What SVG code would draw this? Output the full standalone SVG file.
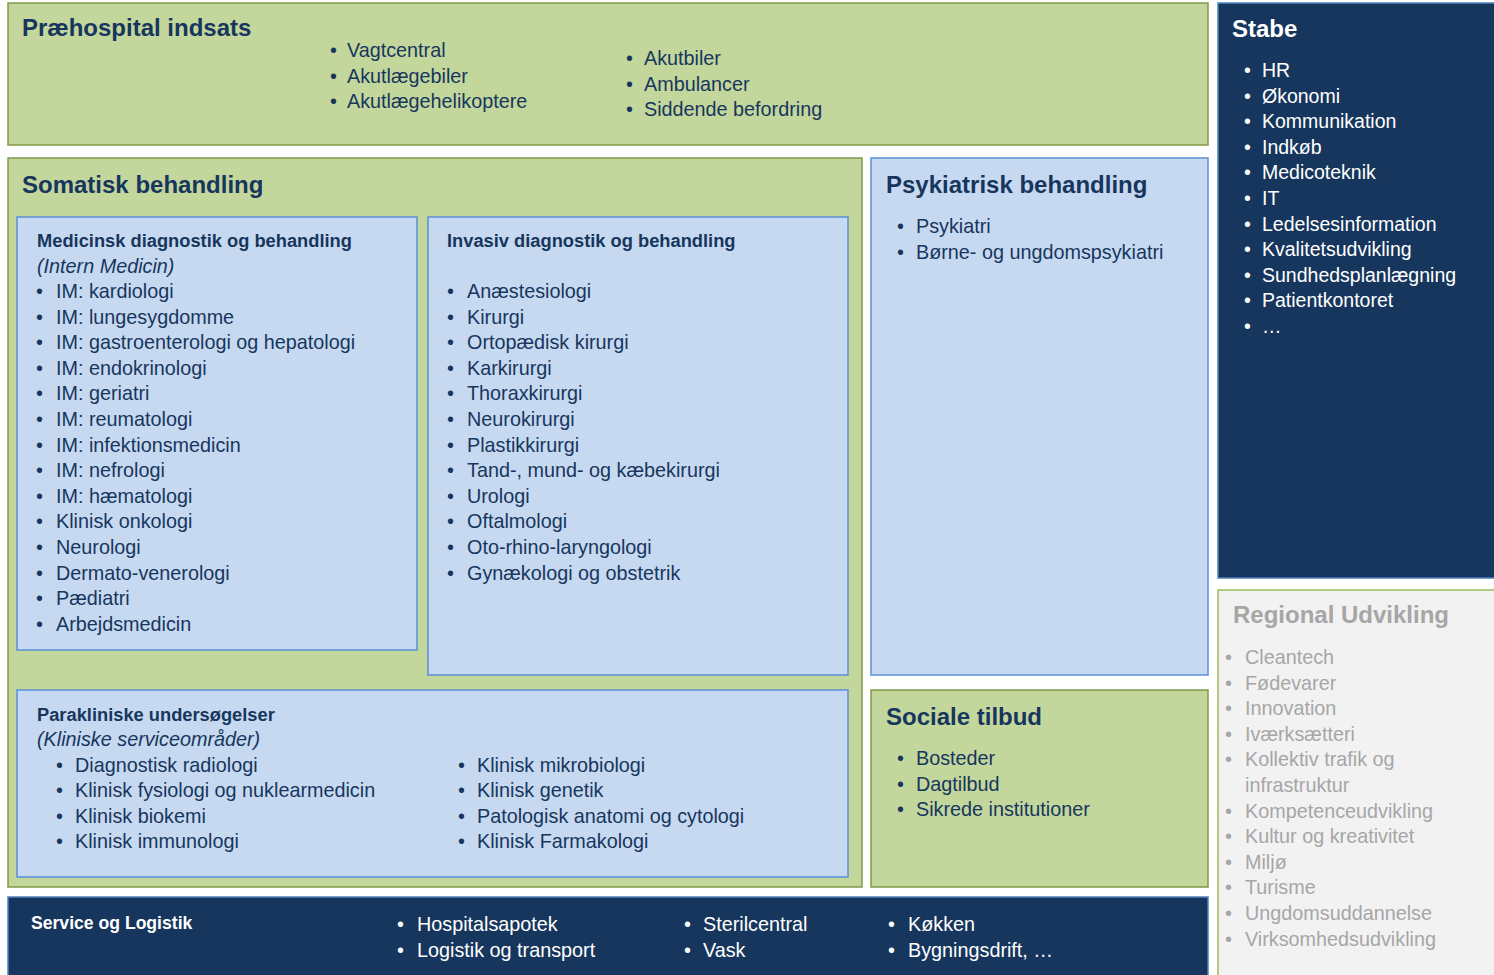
<svg xmlns="http://www.w3.org/2000/svg" width="1494" height="975" viewBox="0 0 1494 975">
<style>
text{font-family:"Liberation Sans",Arial,sans-serif;}
.green{fill:#c3d69b;stroke:#7f9a48;stroke-width:1.5;}
.blue{fill:#c6d9f1;stroke:#5b8fd6;stroke-width:1.5;}
.navy{fill:#17365d;stroke:#4f81bd;stroke-width:1.5;}
.grey{fill:#f2f2f2;stroke:#9bbb59;stroke-width:1.5;}
.title{font-size:24px;font-weight:bold;fill:#17365d;}
.head{font-size:18.3px;font-weight:bold;fill:#17365d;}
.it{font-size:19.8px;font-style:italic;fill:#17365d;}
.item{font-size:19.8px;fill:#17365d;}
.w{fill:#ffffff;}
.g{fill:#a6a6a6;}
</style>

<g id="prehospital">
<rect class="green" x="8" y="3" width="1200" height="142"/>
<text class="title" x="22" y="36">Præhospital indsats</text>
<text class="item"><tspan x="330" y="57">•</tspan><tspan x="347" y="57">Vagtcentral</tspan></text>
<text class="item"><tspan x="330" y="82.5">•</tspan><tspan x="347" y="82.5">Akutlægebiler</tspan></text>
<text class="item"><tspan x="330" y="108">•</tspan><tspan x="347" y="108">Akutlægehelikoptere</tspan></text>
<text class="item"><tspan x="626" y="65">•</tspan><tspan x="644" y="65">Akutbiler</tspan></text>
<text class="item"><tspan x="626" y="90.5">•</tspan><tspan x="644" y="90.5">Ambulancer</tspan></text>
<text class="item"><tspan x="626" y="116">•</tspan><tspan x="644" y="116">Siddende befordring</tspan></text>
</g>

<g id="stabe">
<rect class="navy" x="1218" y="3" width="280" height="575"/>
<text class="title w" x="1232" y="37">Stabe</text>
<g class="item w" style="font-size:19.5px">
<text><tspan x="1244" y="77">•</tspan><tspan x="1262" y="77">HR</tspan></text>
<text><tspan x="1244" y="102.6">•</tspan><tspan x="1262" y="102.6">Økonomi</tspan></text>
<text><tspan x="1244" y="128.2">•</tspan><tspan x="1262" y="128.2">Kommunikation</tspan></text>
<text><tspan x="1244" y="153.8">•</tspan><tspan x="1262" y="153.8">Indkøb</tspan></text>
<text><tspan x="1244" y="179.4">•</tspan><tspan x="1262" y="179.4">Medicoteknik</tspan></text>
<text><tspan x="1244" y="205">•</tspan><tspan x="1262" y="205">IT</tspan></text>
<text><tspan x="1244" y="230.6">•</tspan><tspan x="1262" y="230.6">Ledelsesinformation</tspan></text>
<text><tspan x="1244" y="256.2">•</tspan><tspan x="1262" y="256.2">Kvalitetsudvikling</tspan></text>
<text><tspan x="1244" y="281.8">•</tspan><tspan x="1262" y="281.8">Sundhedsplanlægning</tspan></text>
<text><tspan x="1244" y="307.4">•</tspan><tspan x="1262" y="307.4">Patientkontoret</tspan></text>
<text><tspan x="1244" y="333">•</tspan><tspan x="1262" y="333">…</tspan></text>
</g>
</g>

<g id="regional">
<rect class="grey" x="1218" y="590" width="280" height="390"/>
<text class="title g" x="1233" y="623">Regional Udvikling</text>
<g class="item g">
<text><tspan x="1225" y="664">•</tspan><tspan x="1245" y="664">Cleantech</tspan></text>
<text><tspan x="1225" y="689.6">•</tspan><tspan x="1245" y="689.6">Fødevarer</tspan></text>
<text><tspan x="1225" y="715.2">•</tspan><tspan x="1245" y="715.2">Innovation</tspan></text>
<text><tspan x="1225" y="740.8">•</tspan><tspan x="1245" y="740.8">Iværksætteri</tspan></text>
<text><tspan x="1225" y="766.4">•</tspan><tspan x="1245" y="766.4">Kollektiv trafik og</tspan></text>
<text><tspan x="1245" y="792">infrastruktur</tspan></text>
<text><tspan x="1225" y="817.6">•</tspan><tspan x="1245" y="817.6">Kompetenceudvikling</tspan></text>
<text><tspan x="1225" y="843.2">•</tspan><tspan x="1245" y="843.2">Kultur og kreativitet</tspan></text>
<text><tspan x="1225" y="868.8">•</tspan><tspan x="1245" y="868.8">Miljø</tspan></text>
<text><tspan x="1225" y="894.4">•</tspan><tspan x="1245" y="894.4">Turisme</tspan></text>
<text><tspan x="1225" y="920">•</tspan><tspan x="1245" y="920">Ungdomsuddannelse</tspan></text>
<text><tspan x="1225" y="945.6">•</tspan><tspan x="1245" y="945.6">Virksomhedsudvikling</tspan></text>
</g>
</g>

<g id="somatisk">
<rect class="green" x="8" y="158" width="854" height="729"/>
<text class="title" x="22" y="193">Somatisk behandling</text>
</g>

<g id="medicinsk">
<rect class="blue" x="17" y="217" width="400" height="433"/>
<text class="head" x="37" y="247">Medicinsk diagnostik og behandling</text>
<text class="it" x="37" y="272.5">(Intern Medicin)</text>
<g class="item">
<text><tspan x="36" y="298">•</tspan><tspan x="56" y="298">IM: kardiologi</tspan></text>
<text><tspan x="36" y="323.6">•</tspan><tspan x="56" y="323.6">IM: lungesygdomme</tspan></text>
<text><tspan x="36" y="349.2">•</tspan><tspan x="56" y="349.2">IM: gastroenterologi og hepatologi</tspan></text>
<text><tspan x="36" y="374.8">•</tspan><tspan x="56" y="374.8">IM: endokrinologi</tspan></text>
<text><tspan x="36" y="400.4">•</tspan><tspan x="56" y="400.4">IM: geriatri</tspan></text>
<text><tspan x="36" y="426">•</tspan><tspan x="56" y="426">IM: reumatologi</tspan></text>
<text><tspan x="36" y="451.6">•</tspan><tspan x="56" y="451.6">IM: infektionsmedicin</tspan></text>
<text><tspan x="36" y="477.2">•</tspan><tspan x="56" y="477.2">IM: nefrologi</tspan></text>
<text><tspan x="36" y="502.8">•</tspan><tspan x="56" y="502.8">IM: hæmatologi</tspan></text>
<text><tspan x="36" y="528.4">•</tspan><tspan x="56" y="528.4">Klinisk onkologi</tspan></text>
<text><tspan x="36" y="554">•</tspan><tspan x="56" y="554">Neurologi</tspan></text>
<text><tspan x="36" y="579.6">•</tspan><tspan x="56" y="579.6">Dermato-venerologi</tspan></text>
<text><tspan x="36" y="605.2">•</tspan><tspan x="56" y="605.2">Pædiatri</tspan></text>
<text><tspan x="36" y="630.8">•</tspan><tspan x="56" y="630.8">Arbejdsmedicin</tspan></text>
</g>
</g>

<g id="invasiv">
<rect class="blue" x="428" y="217" width="420" height="458"/>
<text class="head" x="447" y="247">Invasiv diagnostik og behandling</text>
<g class="item">
<text><tspan x="447" y="298">•</tspan><tspan x="467" y="298">Anæstesiologi</tspan></text>
<text><tspan x="447" y="323.6">•</tspan><tspan x="467" y="323.6">Kirurgi</tspan></text>
<text><tspan x="447" y="349.2">•</tspan><tspan x="467" y="349.2">Ortopædisk kirurgi</tspan></text>
<text><tspan x="447" y="374.8">•</tspan><tspan x="467" y="374.8">Karkirurgi</tspan></text>
<text><tspan x="447" y="400.4">•</tspan><tspan x="467" y="400.4">Thoraxkirurgi</tspan></text>
<text><tspan x="447" y="426">•</tspan><tspan x="467" y="426">Neurokirurgi</tspan></text>
<text><tspan x="447" y="451.6">•</tspan><tspan x="467" y="451.6">Plastikkirurgi</tspan></text>
<text><tspan x="447" y="477.2">•</tspan><tspan x="467" y="477.2">Tand-, mund- og kæbekirurgi</tspan></text>
<text><tspan x="447" y="502.8">•</tspan><tspan x="467" y="502.8">Urologi</tspan></text>
<text><tspan x="447" y="528.4">•</tspan><tspan x="467" y="528.4">Oftalmologi</tspan></text>
<text><tspan x="447" y="554">•</tspan><tspan x="467" y="554">Oto-rhino-laryngologi</tspan></text>
<text><tspan x="447" y="579.6">•</tspan><tspan x="467" y="579.6">Gynækologi og obstetrik</tspan></text>
</g>
</g>

<g id="paraklinisk">
<rect class="blue" x="17" y="690" width="831" height="187"/>
<text class="head" x="37" y="720.5">Parakliniske undersøgelser</text>
<text class="it" x="37" y="746">(Kliniske serviceområder)</text>
<g class="item">
<text><tspan x="56" y="771.5">•</tspan><tspan x="75" y="771.5">Diagnostisk radiologi</tspan></text>
<text><tspan x="56" y="797">•</tspan><tspan x="75" y="797">Klinisk fysiologi og nuklearmedicin</tspan></text>
<text><tspan x="56" y="822.5">•</tspan><tspan x="75" y="822.5">Klinisk biokemi</tspan></text>
<text><tspan x="56" y="848">•</tspan><tspan x="75" y="848">Klinisk immunologi</tspan></text>
<text><tspan x="458" y="771.5">•</tspan><tspan x="477" y="771.5">Klinisk mikrobiologi</tspan></text>
<text><tspan x="458" y="797">•</tspan><tspan x="477" y="797">Klinisk genetik</tspan></text>
<text><tspan x="458" y="822.5">•</tspan><tspan x="477" y="822.5">Patologisk anatomi og cytologi</tspan></text>
<text><tspan x="458" y="848">•</tspan><tspan x="477" y="848">Klinisk Farmakologi</tspan></text>
</g>
</g>

<g id="psykiatrisk">
<rect class="blue" x="871" y="158" width="337" height="517"/>
<text class="title" x="886" y="193">Psykiatrisk behandling</text>
<g class="item">
<text><tspan x="897" y="233">•</tspan><tspan x="916" y="233">Psykiatri</tspan></text>
<text><tspan x="897" y="258.6">•</tspan><tspan x="916" y="258.6">Børne- og ungdomspsykiatri</tspan></text>
</g>
</g>

<g id="sociale">
<rect class="green" x="871" y="690" width="337" height="197"/>
<text class="title" x="886" y="725">Sociale tilbud</text>
<g class="item">
<text><tspan x="897" y="765">•</tspan><tspan x="916" y="765">Bosteder</tspan></text>
<text><tspan x="897" y="790.6">•</tspan><tspan x="916" y="790.6">Dagtilbud</tspan></text>
<text><tspan x="897" y="816.2">•</tspan><tspan x="916" y="816.2">Sikrede institutioner</tspan></text>
</g>
</g>

<g id="service">
<rect class="navy" x="8" y="897" width="1200" height="85"/>
<text class="head w" x="31" y="929" style="font-size:17.6px">Service og Logistik</text>
<g class="item w">
<text><tspan x="397" y="931">•</tspan><tspan x="417" y="931">Hospitalsapotek</tspan></text>
<text><tspan x="397" y="957">•</tspan><tspan x="417" y="957">Logistik og transport</tspan></text>
<text><tspan x="684" y="931">•</tspan><tspan x="703" y="931">Sterilcentral</tspan></text>
<text><tspan x="684" y="957">•</tspan><tspan x="703" y="957">Vask</tspan></text>
<text><tspan x="888" y="931">•</tspan><tspan x="908" y="931">Køkken</tspan></text>
<text><tspan x="888" y="957">•</tspan><tspan x="908" y="957">Bygningsdrift, …</tspan></text>
</g>
</g>

<g id="connectors"></g>
</svg>
